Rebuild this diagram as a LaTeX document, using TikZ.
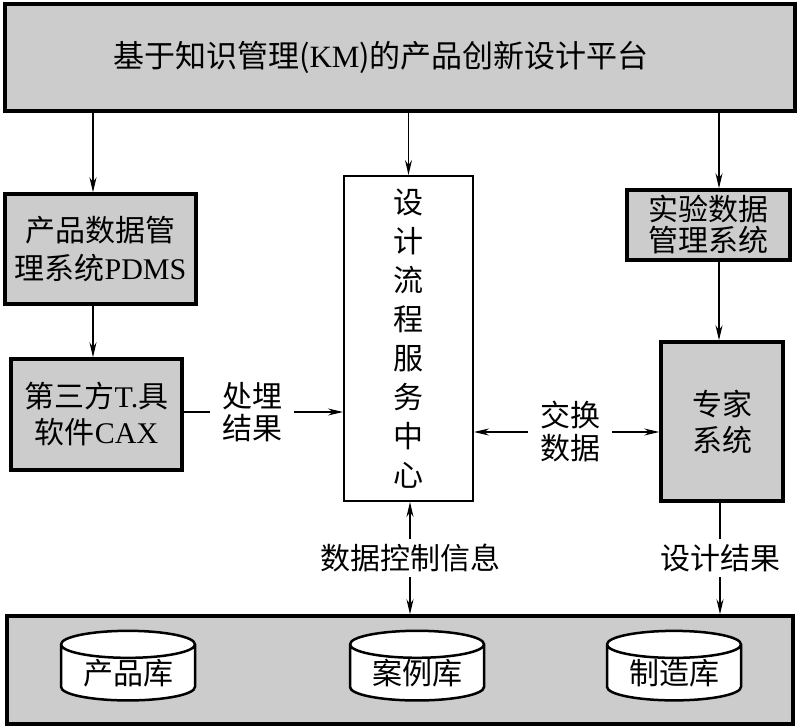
\documentclass[tikz,border=0pt]{standalone}
\usepackage{fontspec}
\setmainfont{Noto Sans CJK SC}
\newfontfamily\lat{Liberation Serif}
\usetikzlibrary{arrows.meta,shapes.geometric}
\definecolor{boxgray}{RGB}{204,204,204}

\begin{document}
\begin{tikzpicture}[x=1pt,y=-1pt,
    every node/.style={font=\fontsize{30}{34}\selectfont},
    graybox/.style={draw,line width=3.5pt,fill=boxgray,align=center,inner sep=0pt,outer sep=1.75pt},
    tag/.style={align=center,inner ysep=0pt,inner xsep=12pt},
    arr/.style={line width=1.5pt,-{Stealth[length=15pt,width=7pt,inset=5pt]}},
    link/.style={line width=1.5pt},
    db/.style={cylinder,shape border rotate=90,aspect=0.3,draw,line width=2.5pt,fill=white,
      minimum width=134pt,minimum height=62pt,inner sep=0pt}]
    \useasboundingbox (0,0) rectangle (798,728);

    % Platform on top
    \node[graybox,minimum width=790pt,minimum height=107pt,font=\fontsize{31}{38}\selectfont]
      (kmp) at (400,57.5) {\hspace*{-38pt}基于知识管理({\lat KM})的产品创新设计平台};

    % Left column
    \node[graybox,minimum width=191pt,minimum height=110pt,font=\fontsize{30}{38}\selectfont]
      (pdms) at (100.5,249) {产品数据管\\理系统{\lat PDMS}};
    \node[graybox,minimum width=171pt,minimum height=111pt,font=\fontsize{30}{36}\selectfont]
      (cax) at (96.5,414.5) {第三方{\lat T.}具\\软件{\lat CAX}};

    % Design flow service centre
    \node[draw,line width=2pt,outer sep=1pt,align=center,minimum width=129pt,minimum height=325pt,
      font=\fontsize{30}{39}\selectfont]
      (flow) at (408.5,338.5) {设\\计\\流\\程\\服\\务\\中\\心};

    % Right column
    \node[graybox,minimum width=163pt,minimum height=70pt,font=\fontsize{30}{31}\selectfont]
      (expdata) at (708.5,225) {实验数据\\管理系统};
    \node[graybox,minimum width=122pt,minimum height=159pt,font=\fontsize{30}{36}\selectfont]
      (expert) at (722,421.5) {专家\\系统};

    % Databases
    \node[graybox,minimum width=786pt,minimum height=108pt] (base) at (400,670) {};
    \node[db] (proddb) at (128,673) {产品库};
    \node[db] (casedb) at (417,673) {案例库};
    \node[db] (mfgdb)  at (674,673) {制造库};

    % Labels on the connectors
    \node[tag,font=\fontsize{30}{32}\selectfont] (res) at (252,412) {处埋\\结果};
    \node[tag,font=\fontsize{30}{33}\selectfont] (xch) at (570,432) {交换\\数据};
    \node[tag,inner xsep=0pt,inner ysep=5pt] (ctl) at (410,558) {数据控制信息};
    \node[tag,inner xsep=0pt,inner ysep=5pt] (dres) at (720,558) {设计结果};

    % Connectors
    \coordinate (lx) at (93,0);
    \coordinate (rx) at (719,0);
    \draw[arr] (lx |- kmp.south) -- (lx |- pdms.north);
    \draw[arr] (lx |- pdms.south) -- (lx |- cax.north);
    \draw[arr] (flow.north |- kmp.south) -- (flow.north);
    \draw[arr] (rx |- kmp.south) -- (rx |- expdata.north);
    \draw[arr] (rx |- expdata.south) -- (rx |- expert.north);
    \draw[link] (cax.east |- res) -- (res.west);
    \draw[arr] (res.east) -- (res.east -| flow.west);
    \draw[arr] (xch.west) -- (xch.west -| flow.east);
    \draw[arr] (xch.east) -- (xch.east -| expert.west);
    \draw[arr] (ctl.north) -- (ctl.north |- flow.south);
    \draw[arr] (ctl.south) -- (ctl.south |- base.north);
    \draw[link] (dres.north |- expert.south) -- (dres.north);
    \draw[arr] (dres.south) -- (dres.south |- base.north);
\end{tikzpicture}
\end{document}
